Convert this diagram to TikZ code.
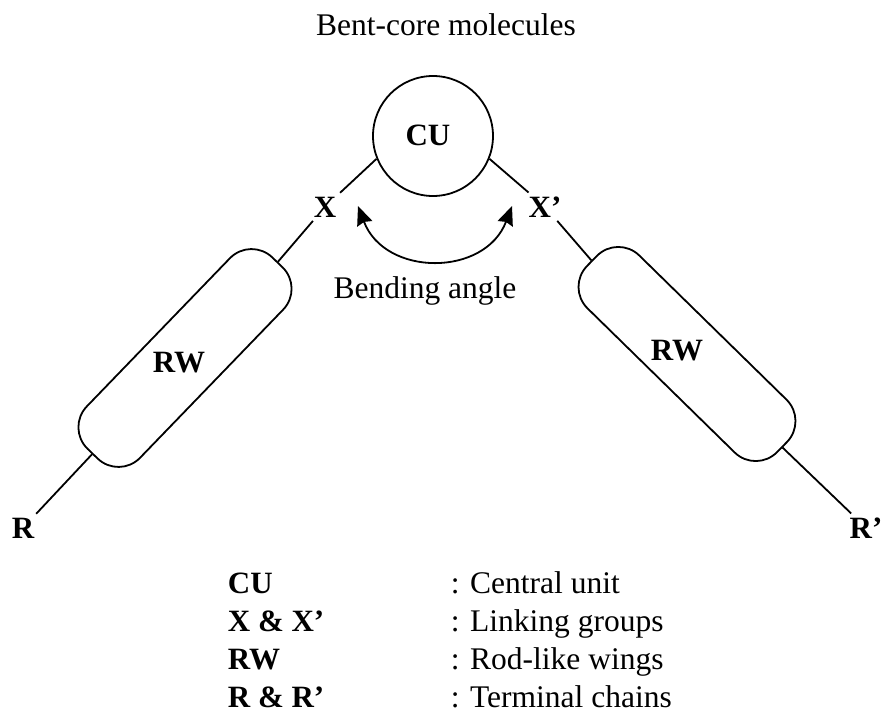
\documentclass[tikz,border=0pt]{standalone}
\usepackage{fontspec}
\setmainfont{Liberation Serif}
\usetikzlibrary{arrows.meta}
\begin{document}
\begin{tikzpicture}[x=1pt,y=-1pt,line width=1.8pt,
  txt/.style={font=\fontsize{31.5}{36}\selectfont, inner sep=2pt},
  lbl/.style={font=\fontsize{31}{36}\selectfont\bfseries, inner sep=3pt},
  unitcircle/.style={draw, circle, minimum size=120pt, inner sep=0pt},
  capsule/.style={draw, rectangle, rounded corners=30pt, minimum width=266pt, minimum height=74pt, inner sep=0pt},
  dblarrow/.style={{Stealth[length=19pt,width=16pt,inset=2pt]}-{Stealth[length=19pt,width=16pt,inset=2pt]}}
]
\useasboundingbox (0,0) rectangle (884,715);

\node[txt, anchor=base] (title) at (446,35) {Bent-core molecules};

\node[unitcircle] (cu) at (433,136) {};
\node[lbl, anchor=base] (cut) at (428,145) {CU};
\node[lbl, anchor=base] (X) at (325,217) {X};
\node[lbl, anchor=base] (Xp) at (545,217) {X’};
\node[capsule, rotate=46] (rwL) at (185,358) {};
\node[lbl] (rwLt) at (179,363) {RW};
\node[capsule, rotate=-44.4] (rwR) at (687,354) {};
\node[lbl] (rwRt) at (677,351) {RW};
\node[lbl, anchor=base] (R) at (23,538) {R};
\node[lbl, anchor=base] (Rp) at (866,538) {R’};

\draw (cu.202) -- (X);
\draw (X) -- (rwL.east);
\draw (rwL.west) -- (R);
\draw (cu.338) -- (Xp);
\draw (Xp) -- (rwR.west);
\draw (rwR.east) -- (Rp);

\coordinate (bL) at (358,206);
\coordinate (bR) at (512,206);
\draw[dblarrow] (bL) .. controls (385,277) and (485,277) .. (bR);
\node[txt, anchor=base] (bend) at (425,298) {Bending angle};

\node[lbl, anchor=base west, inner sep=0pt] (k1) at (227,593) {CU};
\node[lbl, anchor=base west, inner sep=0pt] (k2) at (227,631) {X \& X’};
\node[lbl, anchor=base west, inner sep=0pt] (k3) at (227,669) {RW};
\node[lbl, anchor=base west, inner sep=0pt] (k4) at (227,707) {R \& R’};
\node[txt, anchor=base west, inner sep=0pt] (v1) at (450,593) {: Central unit};
\node[txt, anchor=base west, inner sep=0pt] (v2) at (450,631) {: Linking groups};
\node[txt, anchor=base west, inner sep=0pt] (v3) at (450,669) {: Rod-like wings};
\node[txt, anchor=base west, inner sep=0pt] (v4) at (450,707) {: Terminal chains};
\end{tikzpicture}
\end{document}
